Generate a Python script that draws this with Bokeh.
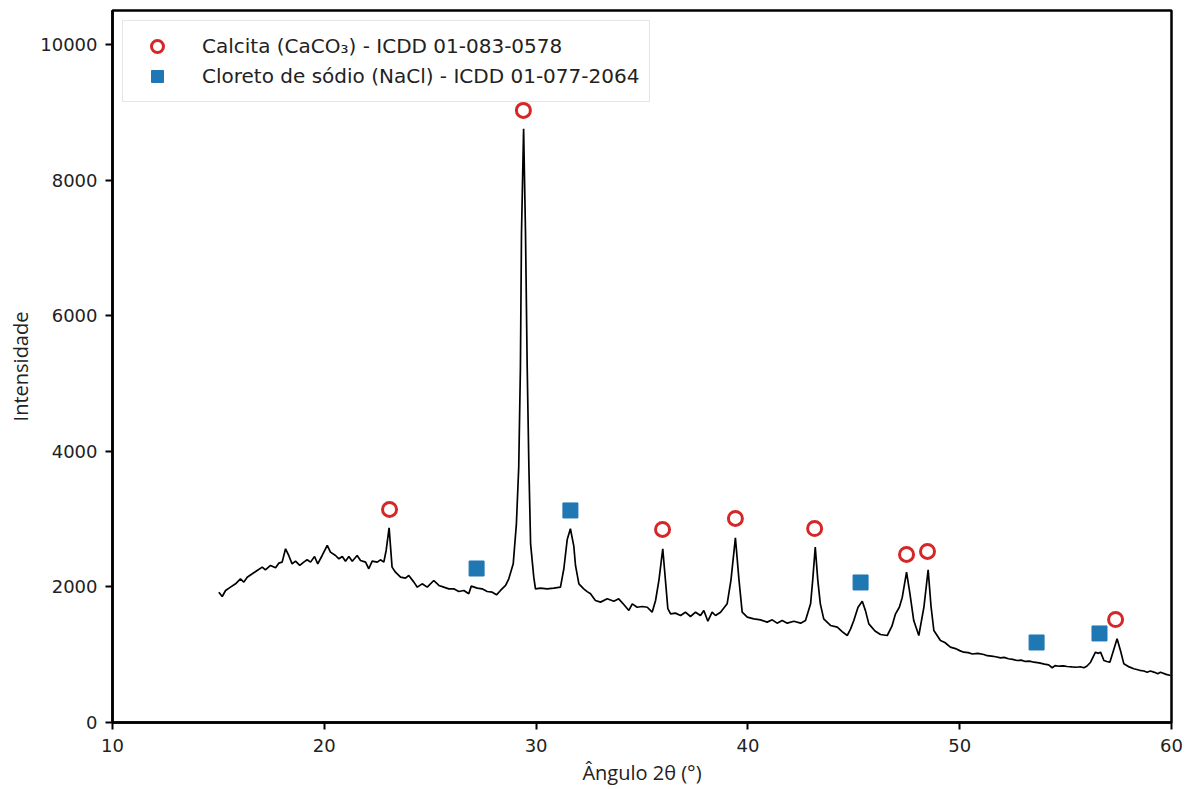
from bokeh.plotting import figure
from bokeh.models import FixedTicker, Legend, LegendItem, Range1d
from bokeh.embed import file_html
from bokeh.resources import INLINE

# XRD pattern
two_theta = [15.02, 15.18, 15.34, 15.57, 15.81, 16.04, 16.2, 16.36, 16.6, 16.83, 17.07, 17.22, 17.46, 17.7,
             17.85, 18.01, 18.17, 18.32, 18.48, 18.64, 18.84, 19.03, 19.19, 19.35, 19.54, 19.69, 19.9,
             20.14, 20.29, 20.53, 20.69, 20.85, 21.0, 21.16, 21.32, 21.55, 21.71, 21.95, 22.1, 22.26,
             22.5, 22.65, 22.81, 22.92, 23.06, 23.2, 23.36, 23.6, 23.83, 23.99, 24.23, 24.39, 24.62,
             24.86, 25.17, 25.41, 25.64, 25.88, 26.11, 26.35, 26.59, 26.82, 26.94, 27.22, 27.45, 27.69,
             27.93, 28.13, 28.32, 28.56, 28.71, 28.92, 29.07, 29.18, 29.26, 29.31, 29.41, 29.5, 29.58,
             29.66, 29.74, 29.89, 29.97, 30.21, 30.52, 30.84, 31.15, 31.31, 31.47, 31.62, 31.78, 31.86,
             32.02, 32.25, 32.41, 32.57, 32.8, 33.04, 33.36, 33.67, 33.9, 34.14, 34.38, 34.54, 34.77,
             35.01, 35.25, 35.48, 35.64, 35.8, 35.98, 36.12, 36.22, 36.35, 36.58, 36.82, 37.05, 37.29,
             37.53, 37.76, 37.92, 38.11, 38.31, 38.47, 38.71, 39.02, 39.2, 39.41, 39.58, 39.73, 39.97,
             40.28, 40.6, 40.91, 41.15, 41.38, 41.62, 41.86, 42.17, 42.49, 42.72, 42.96, 43.06, 43.18,
             43.3, 43.42, 43.58, 43.9, 44.22, 44.45, 44.69, 44.85, 45.0, 45.2, 45.4, 45.55, 45.71, 46.0,
             46.26, 46.58, 46.8, 46.97, 47.15, 47.29, 47.49, 47.65, 47.83, 48.07, 48.31, 48.51, 48.65,
             48.78, 49.09, 49.3, 49.56, 49.8, 50.0, 50.19, 50.4, 50.6, 50.85, 51.14, 51.3, 51.5, 51.7,
             51.93, 52.1, 52.3, 52.5, 52.71, 52.9, 53.1, 53.3, 53.5, 53.75, 54.0, 54.2, 54.37, 54.5,
             54.7, 54.9, 55.07, 55.3, 55.5, 55.7, 55.86, 56.0, 56.18, 56.41, 56.55, 56.65, 56.81, 56.95,
             57.09, 57.25, 57.43, 57.6, 57.75, 58.0, 58.22, 58.5, 58.7, 58.85, 59.0, 59.2, 59.35, 59.48,
             59.75, 59.95]
intensity = [1922, 1858, 1947, 1996, 2045, 2119, 2070, 2143, 2193, 2242, 2291, 2252, 2316, 2281,
             2350, 2365, 2562, 2463, 2340, 2379, 2316, 2365, 2399, 2365, 2448, 2340, 2463,
             2611, 2512, 2463, 2414, 2448, 2379, 2448, 2379, 2463, 2389, 2365, 2267, 2379,
             2365, 2399, 2365, 2537, 2871, 2291, 2217, 2143, 2128, 2168, 2070, 1996, 2045,
             1996, 2094, 2021, 1996, 1971, 1971, 1932, 1947, 1898, 2011, 1981, 1971, 1932,
             1922, 1883, 1947, 2021, 2119, 2340, 2930, 3765, 5240, 7212, 8756, 7212, 5240,
             3765, 2635, 2143, 1971, 1981, 1971, 1981, 1996, 2267, 2700, 2857, 2600, 2316,
             2045, 1971, 1930, 1898, 1799, 1775, 1824, 1789, 1824, 1740, 1652, 1750, 1700,
             1711, 1700, 1627, 1799, 2100, 2562, 2050, 1680, 1603, 1613, 1578, 1627, 1563,
             1627, 1578, 1652, 1494, 1627, 1578, 1627, 1750, 2100, 2724, 2100, 1627, 1553,
             1529, 1514, 1480, 1514, 1465, 1504, 1465, 1494, 1465, 1504, 1750, 2100, 2586,
             2100, 1750, 1529, 1431, 1406, 1340, 1283, 1380, 1504, 1700, 1789, 1650, 1455, 1350,
             1298, 1283, 1420, 1603, 1700, 1848, 2217, 1900, 1504, 1283, 1700, 2251, 1700,
             1357, 1209, 1180, 1111, 1090, 1060, 1037, 1030, 1010, 1020, 1003, 985, 980, 970,
             954, 960, 940, 930, 914, 920, 900, 905, 889, 880, 860, 850, 807, 840,
             830, 835, 826, 820, 815, 822, 807, 830, 889, 1037, 1020, 1037, 914, 900,
             889, 1050, 1234, 1050, 865, 820, 792, 770, 760, 742, 760, 740, 720, 742,
             710, 693]

calcita_x = [23.08, 29.4, 35.97, 39.41, 43.15, 47.49, 48.48, 57.36]
calcita_y = [3142, 9027, 2847, 3009, 2861, 2478, 2522, 1519]
nacl_x = [27.19, 31.62, 45.32, 53.63, 56.6]
nacl_y = [2271, 3127, 2065, 1180, 1313]

x_ticks = [10, 20, 30, 40, 50, 60]
y_ticks = [0, 2000, 4000, 6000, 8000, 10000]
label_calcita = "Calcita (CaCO\u2083) - ICDD 01-083-0578"
label_nacl = "Cloreto de sódio (NaCl) - ICDD 01-077-2064"

p = figure(width=1184, height=789, output_backend="svg", toolbar_location=None,
           x_range=Range1d(10, 60), y_range=Range1d(0, 10500),
           min_border_left=112, min_border_right=13, min_border_top=10, min_border_bottom=67,
           background_fill_color="white", border_fill_color="white")

p.grid.visible = False
p.outline_line_color = "black"
p.outline_line_width = 2.5

for ax in (p.xaxis[0], p.yaxis[0]):
    ax.axis_line_color = "black"
    ax.axis_line_width = 2.5
    ax.major_tick_line_width = 2
    ax.major_tick_out = 7
    ax.major_tick_in = 0
    ax.minor_tick_line_color = None
    ax.major_label_text_font = "DejaVu Sans"
    ax.major_label_text_font_size = "18px"
    ax.major_label_text_color = "#222222"
    ax.axis_label_text_font = "Open Sans"
    ax.axis_label_text_font_size = "20px"
    ax.axis_label_text_font_style = "normal"
    ax.axis_label_text_color = "#222222"

p.xaxis[0].ticker = FixedTicker(ticks=x_ticks)
p.yaxis[0].ticker = FixedTicker(ticks=y_ticks)
p.xaxis[0].axis_label = "Ângulo 2θ (°)"
p.yaxis[0].axis_label = "Intensidade"
p.xaxis[0].major_label_standoff = 9
p.xaxis[0].axis_label_standoff = 4
p.yaxis[0].major_label_standoff = 8
p.yaxis[0].axis_label_standoff = 3

p.line(two_theta, intensity, line_color="black", line_width=1.7)
rc = p.scatter(calcita_x, calcita_y, marker="circle", size=14, fill_color=None,
               line_color="#d62728", line_width=3)
rs = p.scatter(nacl_x, nacl_y, marker="square", size=15, fill_color="#1f77b4",
               line_color="#1f77b4", line_width=1)

legend = Legend(items=[LegendItem(label=label_calcita, renderers=[rc]),
                       LegendItem(label=label_nacl, renderers=[rs])],
                location="top_left", margin=10, padding=10, spacing=0,
                glyph_width=48, glyph_height=30, label_height=30, label_standoff=21,
                label_text_font="DejaVu Sans", label_text_font_size="20px",
                label_text_color="#222222",
                border_line_color="#cccccc", border_line_width=1.5,
                background_fill_color="white", background_fill_alpha=0.8)
p.add_layout(legend)

open("out.html", "w").write(file_html(p, INLINE))
